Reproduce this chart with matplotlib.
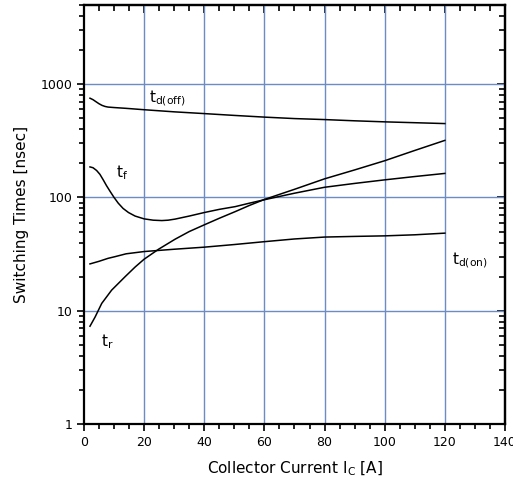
import numpy as np
import matplotlib
matplotlib.use("Agg")
import matplotlib.pyplot as plt
from matplotlib.ticker import LogLocator, MultipleLocator, NullFormatter

# data
ic_off = [2, 3, 4, 5, 6, 7, 8, 10, 14, 20, 30, 40, 50, 60, 70, 80, 90, 100, 110, 120]
td_off = [752, 730, 700, 672, 650, 636, 628, 622, 612, 595, 570, 550, 530, 512, 497, 487, 475, 465, 457, 449]

ic_on = [2, 5, 8, 10.3, 14, 20, 30, 40, 50, 60, 70, 80, 90, 100, 110, 120]
td_on = [25.9, 27.3, 29, 30, 31.8, 33.3, 34.9, 36.4, 38.4, 40.7, 43, 44.7, 45.3, 45.8, 46.8, 48.4]

ic_f = [2, 3, 4.2, 5.3, 6.4, 7.5, 8.7, 10, 11.4, 13, 14.8, 17, 20, 23, 25.9, 28, 30.3, 35, 40, 45, 50.3, 55, 60, 70, 80, 90, 100, 110, 120]
t_f = [186, 183, 173, 160, 143, 127, 113, 100, 89, 80, 73.6, 68.5, 64.7, 63, 62.5, 63, 64.4, 68.5, 73.6, 78.5, 83, 89, 95.5, 109, 123, 133, 143, 153, 163]

ic_r = [2, 3.7, 5.9, 9.2, 13.7, 17, 20, 24.8, 30.3, 35, 40, 45, 50.3, 55, 60, 70, 80, 90, 100, 110, 120]
t_r = [7.3, 8.8, 11.6, 15.2, 20, 24.3, 28.5, 34.9, 42.8, 50, 57.3, 65.5, 75, 85, 96, 118, 146, 175, 211, 260, 319]

x_ticks = [0, 20, 40, 60, 80, 100, 120, 140]
y_ticks = [1, 10, 100, 1000]

fig = plt.figure(figsize=(5.13, 4.87), dpi=100)
ax = fig.add_axes([0.1637, 0.1294, 0.8207, 0.8603])

grid_c = "#6d8cc4"
for x in x_ticks[1:-1]:
    ax.axvline(x, color=grid_c, lw=1.0, zorder=1)
for y in y_ticks[1:]:
    ax.axhline(y, color=grid_c, lw=1.0, zorder=1)

for xs, ys in [(ic_off, td_off), (ic_on, td_on), (ic_f, t_f), (ic_r, t_r)]:
    ax.plot(xs, ys, color="black", lw=1.1, zorder=3)

ax.set_yscale("log")
ax.set_xlim(0, 140)
ax.set_ylim(1, 5000)
ax.set_xticks(x_ticks)
ax.set_xticklabels([str(v) for v in x_ticks], fontsize=9)
ax.set_yticks(y_ticks)
ax.set_yticklabels([str(v) for v in y_ticks], fontsize=9)
ax.xaxis.set_minor_locator(MultipleLocator(5))
ax.yaxis.set_minor_locator(LogLocator(base=10, subs=np.arange(2, 10)))
ax.yaxis.set_minor_formatter(NullFormatter())
ax.tick_params(which="both", direction="out", width=1.2, colors="black")
ax.tick_params(which="major", length=5)
ax.tick_params(which="minor", length=3.5)

# mirrored ticks pointing inward on top and right
top = ax.secondary_xaxis("top")
top.set_xticks(x_ticks)
top.xaxis.set_minor_locator(MultipleLocator(5))
top.tick_params(which="both", direction="in", labeltop=False, width=1.2)
top.tick_params(which="major", length=6)
top.tick_params(which="minor", length=4)
right = ax.secondary_yaxis("right")
right.set_yscale("log")
right.set_yticks(y_ticks)
right.yaxis.set_minor_locator(LogLocator(base=10, subs=np.arange(2, 10)))
right.yaxis.set_minor_formatter(NullFormatter())
right.tick_params(which="both", direction="in", labelright=False, width=1.2)
right.tick_params(which="major", length=6)
right.tick_params(which="minor", length=4)

for s in ax.spines.values():
    s.set_linewidth(1.6)
top.spines["top"].set_linewidth(1.6)
right.spines["right"].set_linewidth(1.6)

ax.set_xlabel("Collector Current I$_{\\mathregular{C}}$ [A]", fontsize=11, labelpad=8)
ax.set_ylabel("Switching Times [nsec]", fontsize=11, labelpad=8)

lab = dict(fontsize=11, color="black", zorder=4)
ax.text(21.5, 700, "t$_{\\mathregular{d(off)}}$", **lab)
ax.text(10.5, 150, "t$_{\\mathregular{f}}$", **lab)
ax.text(122.5, 26, "t$_{\\mathregular{d(on)}}$", **lab)
ax.text(5.5, 4.9, "t$_{\\mathregular{r}}$", **lab)

fig.savefig("out.png", dpi=100)
